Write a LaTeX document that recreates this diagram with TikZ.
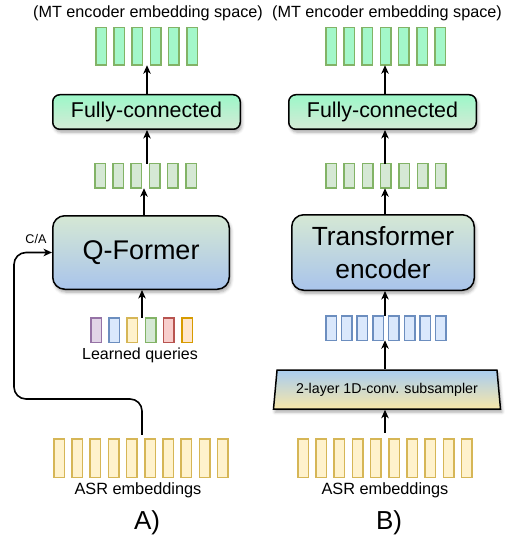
\documentclass[tikz,border=0pt]{standalone}
\usepackage{fontspec}
\setmainfont{Liberation Sans}
\usetikzlibrary{arrows.meta,shapes.geometric,shadows.blur,calc}
\definecolor{mintbar}{HTML}{A3F7C9}
\definecolor{greenline}{HTML}{82B366}
\definecolor{greenfill}{HTML}{D5E8D4}
\definecolor{bluefill}{HTML}{DAE8FC}
\definecolor{blueline}{HTML}{6C8EBF}
\definecolor{yelfill}{HTML}{FFF2CC}
\definecolor{yelline}{HTML}{D6B656}
\definecolor{purfill}{HTML}{E1D5E7}
\definecolor{purline}{HTML}{9673A6}
\definecolor{redfill}{HTML}{F8CECC}
\definecolor{redline}{HTML}{B85450}
\definecolor{orafill}{HTML}{FFE6CC}
\definecolor{oraline}{HTML}{D79B00}
\definecolor{fctop}{HTML}{9CF7C8}
\definecolor{fcbot}{HTML}{D5EAD6}
\definecolor{qftop}{HTML}{D5E8D4}
\definecolor{qfbot}{HTML}{A9C4EB}
\definecolor{subtop}{HTML}{A9CDF0}
\definecolor{subbot}{HTML}{F7E6A8}
\begin{document}
\begin{tikzpicture}[x=1pt,y=-1pt,
  bar/.style={draw, line width=1.5pt, minimum width=10.5pt, inner sep=0pt, outer sep=0pt},
  arr/.style={-{Stealth[length=8.5pt,width=7.5pt,inset=2.5pt]}, line width=1.6pt},
  mbox/.style={draw, line width=1.5pt, inner sep=0pt,
     blur shadow={shadow xshift=1.5pt, shadow yshift=-3pt, shadow blur radius=3pt, shadow opacity=35}},
  lbl/.style={inner sep=0pt, font=\fontsize{16.2}{19}\selectfont},
  panel/.style={inner sep=0pt, font=\fontsize{26}{30}\selectfont}
]
\useasboundingbox (0,0) rectangle (511,537);

% ---------- titles ----------
\node[lbl] (titleA) at (148,13) {(MT encoder embedding space)};
\node[lbl] (titleB) at (387,13) {(MT encoder embedding space)};

% ---------- top output bars ----------
\foreach \i in {1,...,6}
  \node[bar, fill=mintbar, draw=greenline, minimum height=37.5pt] (tA\i) at ({101+18.2*(\i-1)},46.5) {};
\foreach \i in {1,...,7}
  \node[bar, fill=mintbar, draw=greenline, minimum height=37.5pt] (tB\i) at ({331+18.2*(\i-1)},46.5) {};

% ---------- fully-connected boxes ----------
\node[mbox, rounded corners=7pt, top color=fctop, bottom color=fcbot,
      minimum width=187.5pt, minimum height=34.5pt,
      font=\fontsize{21.4}{25}\selectfont] (fcA) at (146.5,112) {Fully-connected};
\node[mbox, rounded corners=7pt, top color=fctop, bottom color=fcbot,
      minimum width=187.5pt, minimum height=34.5pt,
      font=\fontsize{21.4}{25}\selectfont] (fcB) at (382.5,112) {Fully-connected};

% ---------- middle bars ----------
\foreach \i in {1,...,6}
  \node[bar, fill=greenfill, draw=greenline, minimum height=24.5pt] (mA\i) at ({100+18.2*(\i-1)},176) {};
\foreach \i in {1,...,7}
  \node[bar, fill=greenfill, draw=greenline, minimum height=24.5pt] (mB\i) at ({331+18.3*(\i-1)},176) {};

% ---------- Q-Former / Transformer encoder ----------
\node[mbox, rounded corners=12pt, top color=qftop, bottom color=qfbot,
      minimum width=176.5pt, minimum height=73.5pt,
      font=\fontsize{27}{31}\selectfont] (qf) at (141,252.5) {Q-Former};
\node[mbox, rounded corners=12pt, top color=qftop, bottom color=qfbot,
      minimum width=182.5pt, minimum height=75.5pt, align=center,
      font=\fontsize{26.3}{33}\selectfont] (te) at (383,252.5) {Transformer\\encoder};

% ---------- learned queries ----------
\node[bar, fill=purfill, draw=purline, minimum height=24.5pt] (q1) at (96,330) {};
\node[bar, fill=bluefill, draw=blueline, minimum height=24.5pt] (q2) at (114.2,330) {};
\node[bar, fill=yelfill, draw=yelline, minimum height=24.5pt] (q3) at (132.4,330) {};
\node[bar, fill=greenfill, draw=greenline, minimum height=24.5pt] (q4) at (150.6,330) {};
\node[bar, fill=redfill, draw=redline, minimum height=24.5pt] (q5) at (168.8,330) {};
\node[bar, fill=orafill, draw=oraline, minimum height=24.5pt] (q6) at (187,330) {};
\node[lbl, font=\fontsize{16}{19}\selectfont] (lq) at (140,355) {Learned queries};

% ---------- blue bars ----------
\foreach \i in {1,...,8}
  \node[bar, fill=bluefill, draw=blueline, minimum height=24.5pt] (bl\i) at ({331+15.71*(\i-1)},328) {};

% ---------- subsampler ----------
\node[trapezium, trapezium angle=75, trapezium stretches body, draw, line width=1.5pt,
      minimum width=227pt, minimum height=39pt, inner sep=0pt,
      top color=subtop, bottom color=subbot,
      blur shadow={shadow xshift=1.5pt, shadow yshift=-3pt, shadow blur radius=3pt, shadow opacity=35},
      font=\fontsize{14.2}{17}\selectfont] (sub) at (387,389.5) {2-layer 1D-conv. subsampler};

% ---------- ASR bars ----------
\foreach \i in {1,...,10}
  \node[bar, fill=yelfill, draw=yelline, minimum height=38.5pt] (aA\i) at ({59+18.2*(\i-1)},458) {};
\foreach \i in {1,...,10}
  \node[bar, fill=yelfill, draw=yelline, minimum height=38.5pt] (aB\i) at ({303+18.2*(\i-1)},458) {};
\node[lbl, font=\fontsize{16.3}{19}\selectfont] (asrA) at (138,490) {ASR embeddings};
\node[lbl, font=\fontsize{16.3}{19}\selectfont] (asrB) at (385,490) {ASR embeddings};

% ---------- panel labels ----------
\node[panel] (pA) at (147,523) {A)};
\node[panel] (pB) at (389,523) {B)};

% ---------- C/A label ----------
\node[inner sep=0pt, font=\fontsize{12.6}{15}\selectfont] (ca) at (36,239) {C/A};
\coordinate (caCorner) at (14,399);

% ---------- arrow axes ----------
\coordinate (xA1) at (147,0);
\coordinate (xA2) at (144,0);
\coordinate (xA3) at (142,0);
\coordinate (xB) at (385,0);

% ---------- connectors A ----------
\draw[arr] (fcA.north -| xA1) -- (tA1.south -| xA1);
\draw[arr] (mA1.north -| xA1) -- (fcA.south -| xA1);
\draw[arr] (qf.north -| xA2) -- (mA1.south -| xA2);
\draw[arr] (q1.north -| xA3) -- (qf.south -| xA3);
\draw[arr, rounded corners=12pt, shorten <=4pt] (aA1.north -| xA3) |- (caCorner) |- (qf.west);

% ---------- connectors B ----------
\draw[arr] (fcB.north -| xB) -- (tB1.south -| xB);
\draw[arr] (mB1.north -| xB) -- (fcB.south -| xB);
\draw[arr] (te.north -| xB) -- (mB1.south -| xB);
\draw[arr] (bl1.north -| xB) -- (te.south -| xB);
\draw[arr] (sub.north -| xB) -- (bl1.south -| xB);
\draw[arr, shorten <=6pt] (aB1.north -| xB) -- (sub.south -| xB);
\end{tikzpicture}
\end{document}
